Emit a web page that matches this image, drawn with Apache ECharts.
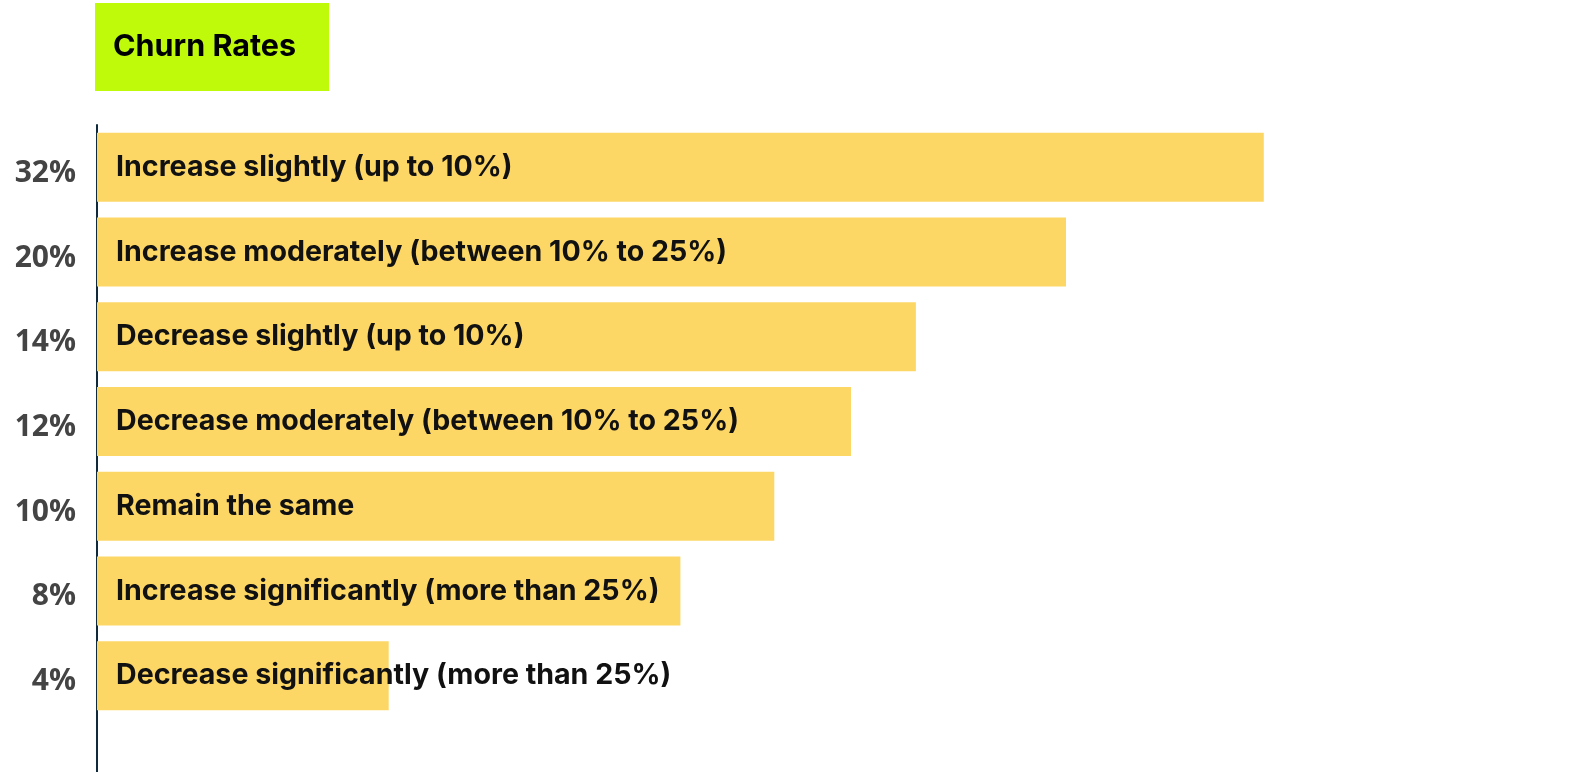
<!DOCTYPE html>
<html>
<head>
<meta charset="utf-8">
<title>Churn Rates</title>
<script src="https://cdn.jsdelivr.net/npm/echarts@6/dist/echarts.min.js"></script>
<style>
  html, body { margin: 0; padding: 0; background: #ffffff; }
  #chart { width: 1581px; height: 772px; }
</style>
</head>
<body>
<div id="chart"></div>
<script>
// Expected change in churn rate: share of respondents per answer
const answers = [
  'Increase slightly (up to 10%)',
  'Increase moderately (between 10% to 25%)',
  'Decrease slightly (up to 10%)',
  'Decrease moderately (between 10% to 25%)',
  'Remain the same',
  'Increase significantly (more than 25%)',
  'Decrease significantly (more than 25%)'
];
const shares = [32, 20, 14, 12, 10, 8, 4];
const shareLabels = shares.map(v => v + '%');

const chart = echarts.init(document.getElementById('chart'), null, { renderer: 'canvas' });

chart.setOption({
  animation: false,
  backgroundColor: '#ffffff',
  title: {
    text: 'Churn Rates',
    left: 95,
    top: 3,
    padding: [27, 33, 27, 18],
    backgroundColor: '#BEFA0A',
    textStyle: {
      fontFamily: 'Inter',
      fontWeight: 700,
      fontSize: 30.5,
      lineHeight: 34,
      color: '#000000'
    }
  },
  grid: [
    { left: 97, right: 0, top: 125, height: 593, containLabel: false },
    { left: 97, right: 0, top: 125, bottom: 0, containLabel: false }
  ],
  xAxis: [
    { gridIndex: 0, type: 'log', min: 2, max: 68, show: false },
    { gridIndex: 1, type: 'value', show: false }
  ],
  yAxis: [
    {
      gridIndex: 0,
      type: 'category',
      inverse: true,
      data: shareLabels,
      axisLine: { show: false },
      axisTick: { show: false },
      splitLine: { show: false },
      axisLabel: {
        margin: 21,
        verticalAlign: 'top',
        lineHeight: 12,
        fontFamily: 'Open Sans',
        fontWeight: 700,
        fontSize: 30,
        color: '#444444'
      }
    },
    {
      gridIndex: 1,
      type: 'value',
      axisLine: { show: true, onZero: false, lineStyle: { color: '#0E2A3B', width: 2 } },
      axisTick: { show: false },
      axisLabel: { show: false },
      splitLine: { show: false }
    }
  ],
  series: [
    {
      type: 'bar',
      xAxisIndex: 0,
      yAxisIndex: 0,
      data: shares,
      barWidth: 69,
      clip: true,
      itemStyle: { color: '#FDD766' },
      label: {
        show: true,
        position: 'insideLeft',
        distance: 19,
        formatter: p => answers[p.dataIndex],
        fontFamily: 'Inter',
        fontWeight: 700,
        fontSize: 28.6,
        color: '#111111'
      }
    }
  ]
});
</script>
</body>
</html>
